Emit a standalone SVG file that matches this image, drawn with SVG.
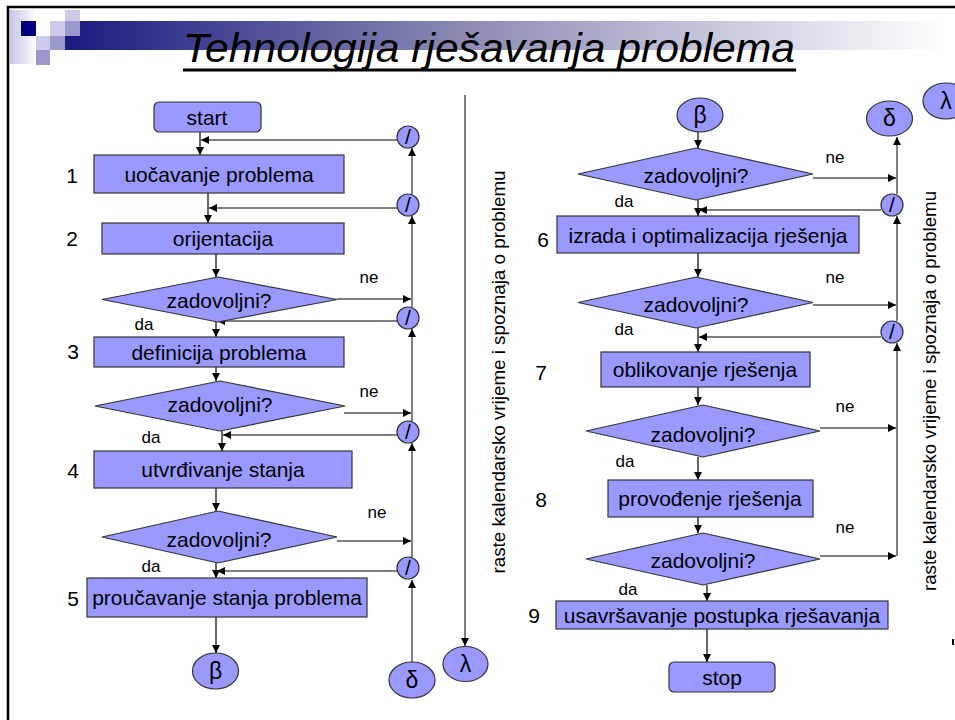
<svg xmlns="http://www.w3.org/2000/svg" width="955" height="720" viewBox="0 0 955 720">
<defs>
<linearGradient id="bar" x1="0" y1="0" x2="1" y2="0">
<stop offset="0" stop-color="#1a1a80"/>
<stop offset="0.45" stop-color="#8a8ab4"/>
<stop offset="1" stop-color="#ffffff"/>
</linearGradient>
<linearGradient id="pale" x1="0" y1="0" x2="1" y2="0">
<stop offset="0" stop-color="#c4c4e4"/>
<stop offset="1" stop-color="#ffffff"/>
</linearGradient>
<marker id="ah" viewBox="0 0 10 10" refX="10" refY="5" markerWidth="8" markerHeight="8" markerUnits="userSpaceOnUse" orient="auto">
<path d="M0,0 L10,5 L0,10 z" fill="#000"/>
</marker>
</defs>
<style>
.box{fill:#9999ff;stroke:#333;stroke-width:1.2}
.t{font-family:"Liberation Sans",Arial,sans-serif;font-size:21px;fill:#000;text-anchor:middle}
.n{font-family:"Liberation Sans",Arial,sans-serif;font-size:21px;fill:#000;text-anchor:middle}
.s{font-family:"Liberation Sans",Arial,sans-serif;font-size:17px;fill:#000;text-anchor:middle}
.g{font-family:"Liberation Sans",Arial,sans-serif;font-size:23px;fill:#000;text-anchor:middle}
.sl{font-family:"Liberation Sans",Arial,sans-serif;font-size:21px;fill:#000;text-anchor:middle}
.rot{font-family:"Liberation Sans",Arial,sans-serif;font-size:18.5px;fill:#000;text-anchor:middle}
.f{fill:none;stroke:#000;stroke-width:1.2;marker-end:url(#ah)}
.gr{fill:none;stroke:#808080;stroke-width:2;marker-end:url(#ah)}
.fb{fill:none;stroke:#555;stroke-width:1.6;marker-end:url(#ah)}
.gl{fill:none;stroke:#808080;stroke-width:2}
</style>
<rect x="0" y="0" width="955" height="720" fill="#fff"/>
<g id="header">
<rect x="10" y="10" width="26" height="54" fill="url(#pale)"/>
<rect x="65" y="21" width="880" height="29" fill="url(#bar)"/>
<rect x="21" y="21" width="15" height="15" fill="#000080"/>
<rect x="65" y="10" width="15" height="11" fill="#ccccea"/>
<rect x="50" y="21" width="15" height="15" fill="#ccccea"/>
<rect x="65" y="21" width="15" height="15" fill="#9999cc"/>
<rect x="36" y="36" width="14" height="14" fill="#ccccea"/>
<rect x="50" y="36" width="15" height="14" fill="#9999cc"/>
<rect x="36" y="50" width="14" height="15" fill="#9999cc"/>
<path d="M8,720 V7 H955" fill="none" stroke="#000" stroke-width="2.6"/>
<text x="489" y="62" font-family="'Liberation Sans',Arial,sans-serif" font-size="40" font-style="italic" text-anchor="middle" textLength="612" lengthAdjust="spacingAndGlyphs">Tehnologija rješavanja problema</text>
<rect x="183" y="68.5" width="613" height="3" fill="#000"/>
</g>
<g id="connectors">
<!-- left flow -->
<path class="f" d="M200,132 V155"/>
<path class="f" d="M208,193 V223"/>
<path class="f" d="M216,254 V277"/>
<path class="f" d="M216,322 V337"/>
<path class="f" d="M216,367 V381"/>
<path class="f" d="M222,431 V451"/>
<path class="f" d="M216,488 V511"/>
<path class="f" d="M216,563 V578"/>
<path class="f" d="M216,617 V653"/>
<!-- left ne -->
<path class="f" d="M337,299 H411"/>
<path class="f" d="M344,413 H411"/>
<path class="f" d="M337,541 H411"/>
<!-- left feedback -->
<path class="fb" d="M397,140 H201"/>
<path class="fb" d="M397,208 H209"/>
<path class="fb" d="M397,321 H217"/>
<path class="fb" d="M397,435 H223"/>
<path class="fb" d="M397,571 H217"/>
<!-- left gray vertical -->
<path class="gr" d="M412,662 V580"/>
<path class="gr" d="M412,557 V443"/>
<path class="gr" d="M412,421 V329"/>
<path class="gr" d="M412,307 V216"/>
<path class="gr" d="M412,194 V148"/>
<path class="gr" d="M465,95 V646"/>
<!-- right flow -->
<path class="f" d="M698,132 V148"/>
<path class="f" d="M698,200 V216"/>
<path class="f" d="M698,253 V277"/>
<path class="f" d="M698,328 V352"/>
<path class="f" d="M698,387 V405"/>
<path class="f" d="M698,457 V480"/>
<path class="f" d="M698,517 V533"/>
<path class="f" d="M707,585 V601"/>
<path class="f" d="M707,629 V662"/>
<!-- right ne -->
<path class="f" d="M813,178 H896"/>
<path class="f" d="M813,305 H896"/>
<path class="f" d="M820,428 H896"/>
<path class="f" d="M820,556 H896"/>
<!-- right feedback -->
<path class="fb" d="M881,210 H699"/>
<path class="fb" d="M881,337 H699"/>
<!-- right gray vertical -->
<path class="gr" d="M897,556 V343"/>
<path class="gr" d="M897,321 V216"/>
<path class="gr" d="M897,194 V137"/>
</g>
<g id="start"><rect class="box" x="154" y="102" width="107" height="30" rx="5"/><text class="t" x="207" y="125">start</text></g>
<g id="b1"><rect class="box" x="94" y="155" width="250" height="38"/><text class="t" x="219" y="182">uočavanje problema</text><text class="n" x="72" y="183">1</text></g>
<g id="b2"><rect class="box" x="102" y="223" width="242" height="31"/><text class="t" x="223" y="246">orijentacija</text><text class="n" x="72" y="246">2</text></g>
<g id="d1"><polygon class="box" points="102,299.5 218,277 337,299.5 218,322"/><text class="t" x="219" y="308">zadovoljni?</text><text class="s" x="369" y="283">ne</text><text class="s" x="144" y="330">da</text></g>
<g id="b3"><rect class="box" x="94" y="337" width="250" height="30"/><text class="t" x="219" y="360">definicija problema</text><text class="n" x="73" y="359">3</text></g>
<g id="d2"><polygon class="box" points="95,406 220,381 345,406 220,431"/><text class="t" x="220" y="412">zadovoljni?</text><text class="s" x="369" y="397">ne</text><text class="s" x="151" y="443">da</text></g>
<g id="b4"><rect class="box" x="94" y="451" width="258" height="37"/><text class="t" x="223" y="477">utvrđivanje stanja</text><text class="n" x="73" y="478">4</text></g>
<g id="d3"><polygon class="box" points="102,537 218,511 337,537 218,563"/><text class="t" x="219" y="547">zadovoljni?</text><text class="s" x="377" y="518">ne</text><text class="s" x="151" y="572">da</text></g>
<g id="b5"><rect class="box" x="87" y="578" width="280" height="39"/><text class="t" x="227" y="605">proučavanje stanja problema</text><text class="n" x="73" y="606">5</text></g>
<g id="beta1"><ellipse class="box" cx="215.5" cy="671" rx="23" ry="18"/><text class="g" x="215.5" y="679">β</text></g>
<g id="delta1"><ellipse class="box" cx="412" cy="680" rx="23" ry="18"/><text class="g" x="412" y="688">δ</text></g>
<g id="lambda1"><ellipse class="box" cx="465.5" cy="664" rx="22.5" ry="17.5"/><text class="g" x="465.5" y="672">λ</text></g>
<g id="c1"><circle class="box" cx="408" cy="137" r="11"/><text class="sl" x="408" y="144">/</text></g>
<g id="c2"><circle class="box" cx="408" cy="205" r="11"/><text class="sl" x="408" y="212">/</text></g>
<g id="c3"><circle class="box" cx="408" cy="318" r="11"/><text class="sl" x="408" y="325">/</text></g>
<g id="c4"><circle class="box" cx="408" cy="432" r="11"/><text class="sl" x="408" y="439">/</text></g>
<g id="c5"><circle class="box" cx="408" cy="568" r="11"/><text class="sl" x="408" y="575">/</text></g>
<g id="label-left"><text class="rot" transform="translate(505,372) rotate(-90)" textLength="403" lengthAdjust="spacingAndGlyphs">raste kalendarsko vrijeme i spoznaja o problemu</text></g>
<g id="beta2"><ellipse class="box" cx="700" cy="115" rx="23" ry="17"/><text class="g" x="700" y="123">β</text></g>
<g id="delta2"><ellipse class="box" cx="889.5" cy="118.5" rx="23" ry="17.5"/><text class="g" x="889.5" y="126">δ</text></g>
<g id="lambda2"><ellipse class="box" cx="946" cy="101" rx="23" ry="18"/><text class="g" x="946" y="109">λ</text></g>
<g id="r1"><polygon class="box" points="578,174 696,148 813,174 696,200"/><text class="t" x="696" y="183">zadovoljni?</text><text class="s" x="835" y="163">ne</text><text class="s" x="624" y="207">da</text></g>
<g id="b6"><rect class="box" x="557" y="216" width="302" height="37"/><text class="t" x="708" y="243">izrada i optimalizacija rješenja</text><text class="n" x="543" y="247">6</text></g>
<g id="r2"><polygon class="box" points="578,302.5 696,277 813,302.5 696,328"/><text class="t" x="696" y="312">zadovoljni?</text><text class="s" x="835" y="283">ne</text><text class="s" x="624" y="335">da</text></g>
<g id="cr1"><circle class="box" cx="892" cy="205" r="11"/><text class="sl" x="892" y="212">/</text></g>
<g id="cr2"><circle class="box" cx="892" cy="332" r="11"/><text class="sl" x="892" y="339">/</text></g>
<g id="b7"><rect class="box" x="601" y="352" width="209" height="35"/><text class="t" x="705" y="377">oblikovanje rješenja</text><text class="n" x="541" y="380">7</text></g>
<g id="r3"><polygon class="box" points="586,431 703,405 820,431 703,457"/><text class="t" x="703" y="442">zadovoljni?</text><text class="s" x="845" y="412">ne</text><text class="s" x="625" y="467">da</text></g>
<g id="b8"><rect class="box" x="608" y="480" width="205" height="37"/><text class="t" x="710" y="506">provođenje rješenja</text><text class="n" x="541" y="507">8</text></g>
<g id="r4"><polygon class="box" points="586,559 703,533 820,559 703,585"/><text class="t" x="703" y="568">zadovoljni?</text><text class="s" x="845" y="533">ne</text><text class="s" x="628" y="595">da</text></g>
<g id="b9"><rect class="box" x="556" y="601" width="332" height="28"/><text class="t" x="722" y="623">usavršavanje postupka rješavanja</text><text class="n" x="534" y="623">9</text></g>
<g id="stop"><rect class="box" x="669" y="662" width="106" height="30" rx="5"/><text class="t" x="722" y="685">stop</text></g>
<g id="label-right"><text class="rot" transform="translate(936,391) rotate(-90)" textLength="400" lengthAdjust="spacingAndGlyphs">raste kalendarsko vrijeme i spoznaja o problemu</text></g>
<rect x="952" y="639" width="2" height="6" fill="#000"/>
</svg>
